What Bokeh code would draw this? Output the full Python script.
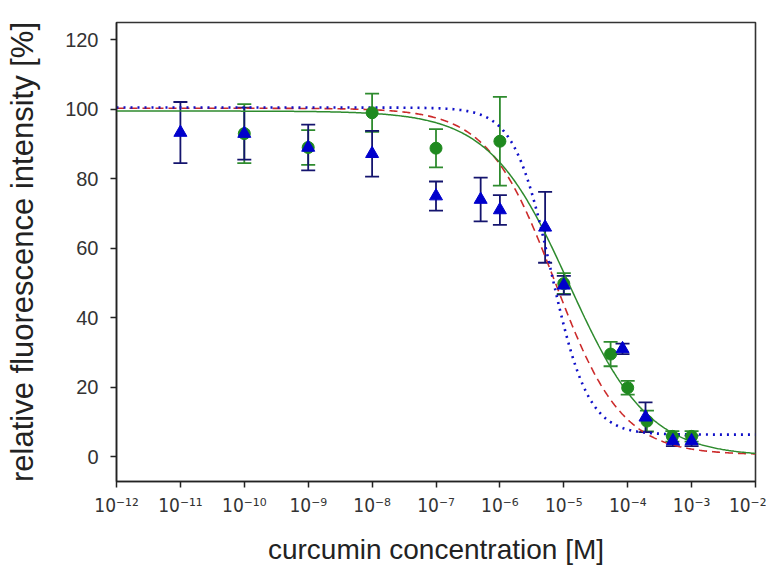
import numpy as np
from bokeh.plotting import figure
from bokeh.models import ColumnDataSource, Whisker, TeeHead, FixedTicker
from bokeh.embed import file_html
from bokeh.resources import INLINE

# ---- data ----
conc_green = [1e-10, 1e-9, 1e-8, 1e-7, 1e-6, 1e-5, 5.4e-5, 1e-4, 2e-4, 5e-4, 1e-3]
val_green = [93.0, 89.0, 99.0, 88.8, 90.8, 49.8, 29.5, 19.8, 10.2, 5.8, 5.8]
err_green = [8.5, 5.0, 5.5, 5.5, 12.8, 3.0, 3.5, 2.0, 3.0, 1.5, 1.5]

conc_blue = [1e-11, 1e-10, 1e-9, 1e-8, 1e-7, 5e-7, 1e-6, 5.1e-6, 1e-5, 8.3e-5, 1.9e-4, 5.1e-4, 1e-3]
val_blue = [93.3, 93.0, 89.0, 87.2, 75.0, 74.0, 71.0, 66.0, 49.3, 31.0, 11.3, 4.5, 4.5]
err_blue = [8.8, 7.5, 6.6, 6.6, 4.2, 6.3, 4.3, 10.2, 2.7, 1.5, 4.3, 1.5, 1.5]

# fitted dose-response curves: top, bottom, log10(EC50), hill slope
fit_green = [99.5, 0.0, -4.92, 0.70]
fit_red = [100.3, 0.5, -5.14, 0.83]
fit_blue = [100.5, 6.3, -5.2, 1.5]

tick_exps = list(range(-12, -1))
sup = str.maketrans("-0123456789", "⁻⁰¹²³⁴⁵⁶⁷⁸⁹")
tick_labels = {e: "10" + str(e).translate(sup) for e in tick_exps}

FONT = "Liberation Sans"

p = figure(width=766, height=568, output_backend="svg", toolbar_location=None,
           x_range=(-12, -2), y_range=(-7.2, 125),
           min_border_left=116, min_border_right=11, min_border_top=22, min_border_bottom=87)
p.grid.visible = False
p.outline_line_color = "#333333"
p.outline_line_width = 1.6
p.background_fill_color = "white"
p.border_fill_color = "white"

xs = np.linspace(-12, -2, 600)
def curve(params):
    top, bot, lec, h = params
    return bot + (top - bot) / (1.0 + 10 ** (h * (xs - lec)))

p.line(xs, curve(fit_red), line_color="#cc2b2b", line_width=1.6, line_dash="8 5")
p.line(xs, curve(fit_green), line_color="#2e8b2e", line_width=1.5)
p.line(xs, curve(fit_blue), line_color="#1010c8", line_width=2.6, line_dash="2 5")

lg = np.log10(conc_green)
lb = np.log10(conc_blue)
src_g = ColumnDataSource(dict(x=lg, y=val_green,
                              lo=np.array(val_green) - np.array(err_green),
                              hi=np.array(val_green) + np.array(err_green)))
src_b = ColumnDataSource(dict(x=lb, y=val_blue,
                              lo=np.array(val_blue) - np.array(err_blue),
                              hi=np.array(val_blue) + np.array(err_blue)))

wg = Whisker(source=src_g, base="x", lower="lo", upper="hi", line_color="#2e8b2e", line_width=1.8,
             upper_head=TeeHead(size=14, line_color="#2e8b2e", line_width=1.8),
             lower_head=TeeHead(size=14, line_color="#2e8b2e", line_width=1.8))
p.add_layout(wg)
p.scatter("x", "y", source=src_g, marker="circle", size=12, fill_color="#1f8a1f", line_color="#1f8a1f")

wb = Whisker(source=src_b, base="x", lower="lo", upper="hi", line_color="#14146e", line_width=1.8,
             upper_head=TeeHead(size=14, line_color="#14146e", line_width=1.8),
             lower_head=TeeHead(size=14, line_color="#14146e", line_width=1.8))
p.add_layout(wb)
p.scatter("x", "y", source=src_b, marker="triangle", size=13, fill_color="#0000cc", line_color="#0000cc")

# axes
p.xaxis.ticker = FixedTicker(ticks=tick_exps)
p.xaxis.major_label_overrides = tick_labels
p.yaxis.ticker = FixedTicker(ticks=[0, 20, 40, 60, 80, 100, 120])
for ax in (p.xaxis[0], p.yaxis[0]):
    ax.axis_line_color = "#222222"
    ax.axis_line_width = 1.5
    ax.major_tick_line_color = "#222222"
    ax.major_tick_line_width = 1.5
    ax.major_tick_out = 6
    ax.major_tick_in = 0
    ax.minor_tick_line_color = None
    ax.major_label_text_font = FONT
    ax.major_label_text_color = "#333333"
    ax.axis_label_text_font = FONT
    ax.axis_label_text_font_style = "normal"
    ax.axis_label_text_color = "#222222"
p.xaxis.major_label_text_font = "DejaVu Sans Condensed"
p.xaxis.major_label_text_font_size = "19px"
p.yaxis.major_label_text_font_size = "20px"
p.xaxis.major_label_standoff = 6
p.yaxis.major_label_standoff = 12
p.xaxis.axis_label = "curcumin concentration [M]"
p.yaxis.axis_label = "relative fluorescence intensity [%]"
p.xaxis.axis_label_text_font_size = "28px"
p.yaxis.axis_label_text_font_size = "31px"
p.xaxis.axis_label_standoff = 15
p.yaxis.axis_label_standoff = 22

open("out.html", "w").write(file_html(p, INLINE))
